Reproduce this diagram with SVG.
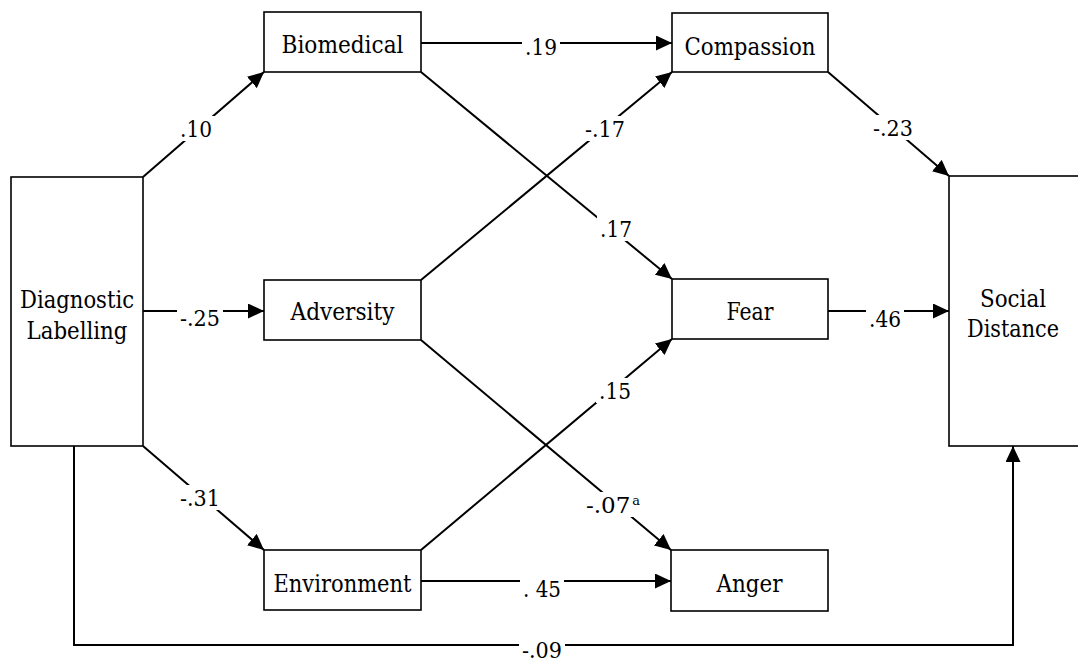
<svg xmlns="http://www.w3.org/2000/svg" width="1078" height="662" viewBox="0 0 1078 662">
<style>
.box{fill:#fff;stroke:#000;stroke-width:1.6}
.node{font-family:'DejaVu Serif','Liberation Serif',serif;font-size:23.5px;fill:#000;text-anchor:middle}
.lbl{font-family:'DejaVu Serif','Liberation Serif',serif;font-size:23px;fill:#000;text-anchor:middle}
.edge{fill:none;stroke:#000;stroke-width:2}
.bg{fill:#fff;stroke:none}
</style>
<defs>
<marker id="arr" markerUnits="userSpaceOnUse" viewBox="0 0 16 15" markerWidth="16" markerHeight="15" refX="16" refY="7.5" orient="auto">
<path d="M0,0 L16,7.5 L0,15 z" fill="#000"/>
</marker>
</defs>
<rect width="1078" height="662" fill="#fff"/>
<g id="connectors">
<path class="edge" d="M143,177 L264,72" marker-end="url(#arr)"/>
<path class="edge" d="M421,43 L672,43" marker-end="url(#arr)"/>
<path class="edge" d="M421,72 L672,279" marker-end="url(#arr)"/>
<path class="edge" d="M421,280 L672,72" marker-end="url(#arr)"/>
<path class="edge" d="M421,340 L671,550" marker-end="url(#arr)"/>
<path class="edge" d="M143,311 L264,311" marker-end="url(#arr)"/>
<path class="edge" d="M143,446 L264,550" marker-end="url(#arr)"/>
<path class="edge" d="M421,550 L672,339" marker-end="url(#arr)"/>
<path class="edge" d="M421,581 L671,581" marker-end="url(#arr)"/>
<path class="edge" d="M828,72 L949,176" marker-end="url(#arr)"/>
<path class="edge" d="M828,311 L949,311" marker-end="url(#arr)"/>
<path class="edge" d="M74,446 L74,645 L1013,645 L1013,446" marker-end="url(#arr)"/>
<g id="labels">
<rect class="bg" x="177" y="116" width="38" height="25"/><text class="lbl" x="196" y="137" textLength="32" lengthAdjust="spacingAndGlyphs">.10</text>
<rect class="bg" x="522" y="34" width="38" height="25"/><text class="lbl" x="541" y="55" textLength="32" lengthAdjust="spacingAndGlyphs">.19</text>
<rect class="bg" x="582" y="116" width="46" height="25"/><text class="lbl" x="605" y="137" textLength="40" lengthAdjust="spacingAndGlyphs">-.17</text>
<rect class="bg" x="870" y="115" width="46" height="25"/><text class="lbl" x="893" y="136" textLength="40" lengthAdjust="spacingAndGlyphs">-.23</text>
<rect class="bg" x="597" y="216" width="38" height="25"/><text class="lbl" x="616" y="237" textLength="32" lengthAdjust="spacingAndGlyphs">.17</text>
<rect class="bg" x="177" y="305" width="46" height="25"/><text class="lbl" x="200" y="326" textLength="40" lengthAdjust="spacingAndGlyphs">-.25</text>
<rect class="bg" x="866" y="306" width="38" height="25"/><text class="lbl" x="885" y="327" textLength="32" lengthAdjust="spacingAndGlyphs">.46</text>
<rect class="bg" x="596" y="378" width="38" height="25"/><text class="lbl" x="615" y="399" textLength="32" lengthAdjust="spacingAndGlyphs">.15</text>
<rect class="bg" x="177" y="485" width="46" height="25"/><text class="lbl" x="200" y="506" textLength="40" lengthAdjust="spacingAndGlyphs">-.31</text>
<rect class="bg" x="583" y="492" width="55" height="25"/><text class="lbl" x="586" y="513" style="text-anchor:start">-.07<tspan font-size="13" dx="2" dy="-8">a</tspan></text>
<rect class="bg" x="520" y="576" width="44" height="25"/><text class="lbl" x="542" y="597" textLength="38" lengthAdjust="spacingAndGlyphs">. 45</text>
<rect class="bg" x="519" y="637" width="46" height="25"/><text class="lbl" x="542" y="658" textLength="40" lengthAdjust="spacingAndGlyphs">-.09</text>
</g>
</g>
<g id="diagnostic-labelling">
<rect class="box" x="11" y="177" width="132" height="269"/>
<text class="node" x="77" y="308" textLength="114" lengthAdjust="spacingAndGlyphs">Diagnostic</text>
<text class="node" x="77" y="339" textLength="101" lengthAdjust="spacingAndGlyphs">Labelling</text>
</g>
<g id="biomedical">
<rect class="box" x="264" y="12" width="157" height="60"/>
<text class="node" x="342.5" y="53" textLength="122" lengthAdjust="spacingAndGlyphs">Biomedical</text>
</g>
<g id="adversity">
<rect class="box" x="264" y="280" width="157" height="60"/>
<text class="node" x="342.5" y="320" textLength="104" lengthAdjust="spacingAndGlyphs">Adversity</text>
</g>
<g id="environment">
<rect class="box" x="264" y="550" width="157" height="60"/>
<text class="node" x="342.5" y="592" textLength="138" lengthAdjust="spacingAndGlyphs">Environment</text>
</g>
<g id="compassion">
<rect class="box" x="672" y="13" width="156" height="59"/>
<text class="node" x="750" y="55" textLength="131" lengthAdjust="spacingAndGlyphs">Compassion</text>
</g>
<g id="fear">
<rect class="box" x="672" y="279" width="156" height="60"/>
<text class="node" x="750" y="320" textLength="47" lengthAdjust="spacingAndGlyphs">Fear</text>
</g>
<g id="anger">
<rect class="box" x="671" y="550" width="157" height="61"/>
<text class="node" x="749.5" y="592" textLength="66" lengthAdjust="spacingAndGlyphs">Anger</text>
</g>
<g id="social-distance">
<rect class="box" x="949" y="176" width="140" height="270"/>
<text class="node" x="1013" y="307" textLength="66" lengthAdjust="spacingAndGlyphs">Social</text>
<text class="node" x="1013" y="337" textLength="92" lengthAdjust="spacingAndGlyphs">Distance</text>
</g>
</svg>
